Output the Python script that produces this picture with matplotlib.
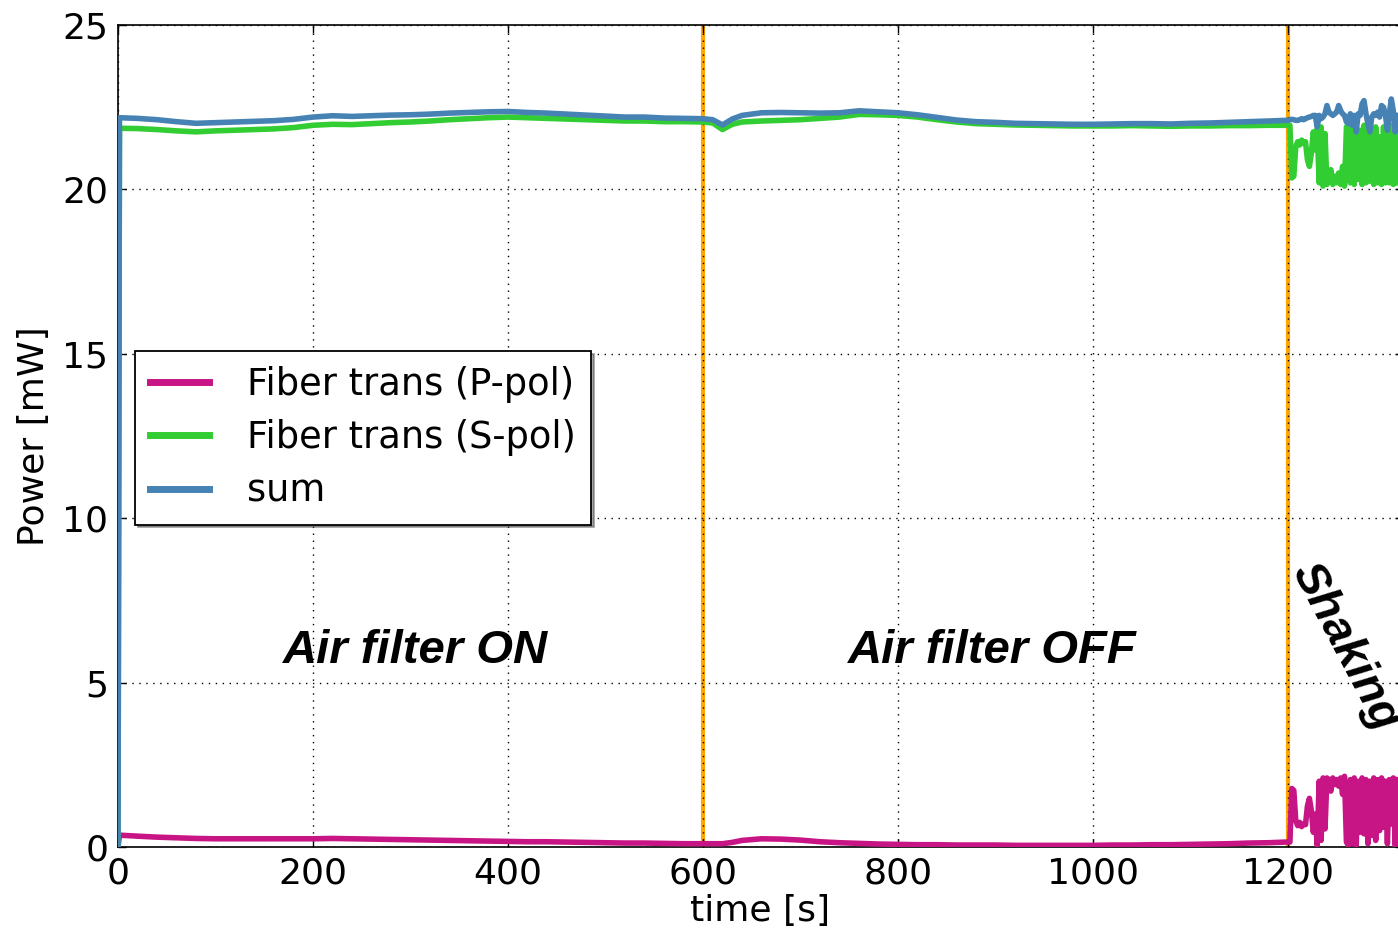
import numpy as np
import matplotlib
matplotlib.use("Agg")
import matplotlib.pyplot as plt

# ---- data: steady part (time in s) ----
t_steady = [0, 1.5, 20, 40, 60, 80, 100, 120, 140, 160, 180, 200, 220, 240, 260, 280,
            300, 320, 340, 360, 380, 400, 420, 440, 460, 480, 500, 520, 540, 560, 580,
            600, 610, 620, 630, 640, 660, 680, 700, 720, 740, 760, 780, 800, 820, 840,
            860, 880, 900, 920, 940, 960, 980, 1000, 1020, 1040, 1060, 1080, 1100,
            1120, 1140, 1160, 1180, 1198]
p_steady = [0.0, 0.36, 0.33, 0.30, 0.28, 0.26, 0.25, 0.25, 0.25, 0.25, 0.25, 0.25,
            0.26, 0.25, 0.24, 0.23, 0.22, 0.21, 0.20, 0.19, 0.18, 0.17, 0.16, 0.16,
            0.15, 0.14, 0.13, 0.12, 0.12, 0.11, 0.10, 0.10, 0.10, 0.10, 0.14, 0.20,
            0.25, 0.24, 0.21, 0.16, 0.13, 0.11, 0.09, 0.08, 0.07, 0.07, 0.06, 0.06,
            0.06, 0.05, 0.05, 0.05, 0.05, 0.05, 0.06, 0.06, 0.07, 0.07, 0.08, 0.09,
            0.10, 0.12, 0.13, 0.15]
s_steady = [0.0, 21.86, 21.85, 21.82, 21.78, 21.75, 21.78, 21.80, 21.82, 21.84,
            21.88, 21.95, 21.98, 21.97, 22.00, 22.03, 22.05, 22.08, 22.12, 22.15,
            22.18, 22.20, 22.18, 22.16, 22.14, 22.12, 22.10, 22.08, 22.08, 22.06,
            22.06, 22.05, 22.02, 21.82, 21.98, 22.05, 22.08, 22.10, 22.12, 22.16,
            22.20, 22.28, 22.27, 22.25, 22.20, 22.12, 22.05, 22.00, 21.98, 21.96,
            21.95, 21.94, 21.93, 21.93, 21.93, 21.94, 21.93, 21.92, 21.93, 21.93,
            21.94, 21.94, 21.95, 21.95]
sum_steady = [0.0, 22.18, 22.16, 22.12, 22.06, 22.01, 22.03, 22.05, 22.07, 22.09,
              22.13, 22.20, 22.24, 22.22, 22.24, 22.26, 22.27, 22.29, 22.32, 22.34,
              22.36, 22.37, 22.34, 22.32, 22.29, 22.26, 22.23, 22.20, 22.20, 22.17,
              22.16, 22.15, 22.12, 21.96, 22.14, 22.25, 22.33, 22.34, 22.33, 22.32,
              22.33, 22.39, 22.36, 22.33, 22.27, 22.19, 22.11, 22.06, 22.04, 22.01,
              22.00, 21.99, 21.98, 21.98, 21.99, 22.00, 22.00, 21.99, 22.01, 22.02,
              22.04, 22.06, 22.08, 22.10]

# ---- data: shaking part (every 2 s from 1200 s to 1312 s) ----
t_shake = [1200, 1202, 1204, 1206, 1208, 1210, 1212, 1214, 1216, 1218, 1220, 1222,
           1224, 1226, 1228, 1230, 1232, 1234, 1236, 1238, 1240, 1242, 1244, 1246,
           1248, 1250, 1252, 1254, 1256, 1258, 1260, 1262, 1264, 1266, 1268, 1270,
           1272, 1274, 1276, 1278, 1280, 1282, 1284, 1286, 1288, 1290, 1292, 1294,
           1296, 1298, 1300, 1302, 1304, 1306, 1308, 1310, 1312]
s_shake = [21.95, 21.95, 20.35, 20.40, 21.30, 21.45, 21.35, 21.50, 21.40, 21.45,
           20.90, 20.70, 21.10, 21.75, 21.20, 21.85, 20.20, 21.90, 20.10, 21.70,
           20.15, 20.30, 20.60, 20.15, 20.40, 20.20, 20.50, 20.15, 20.70, 20.10,
           21.90, 21.95, 20.20, 21.85, 20.15, 21.90, 20.30, 21.80, 20.15, 21.95,
           20.20, 21.90, 20.25, 21.85, 20.15, 21.90, 20.20, 21.60, 20.15, 21.90,
           20.20, 21.85, 20.20, 21.95, 20.15, 21.90, 20.20]
p_shake = [0.15, 0.15, 1.78, 1.72, 0.80, 0.65, 0.75, 0.62, 0.70, 0.68,
           1.25, 1.48, 1.10, 0.45, 1.00, 0.05, 2.00, 0.20, 2.10, 0.55,
           2.10, 2.05, 1.70, 2.10, 1.90, 2.05, 1.85, 2.10, 1.60, 2.15,
           0.15, 0.05, 2.05, 0.10, 2.10, 0.05, 2.00, 0.45, 2.10, 0.40,
           2.05, 0.10, 2.00, 0.35, 2.10, 0.20, 2.05, 0.50, 2.10, 0.60,
           2.00, 0.10, 2.05, 0.70, 2.10, 0.05, 2.05]
sum_shake = [22.10, 22.12, 22.13, 22.12, 22.10, 22.10, 22.12, 22.15, 22.12, 22.15,
             22.18, 22.20, 22.22, 22.25, 22.25, 21.90, 22.25, 22.15, 22.20, 22.30,
             22.55, 22.35, 22.30, 22.25, 22.30, 22.35, 22.55, 22.40, 22.30, 22.25,
             22.05, 22.00, 22.30, 21.95, 22.25, 21.75, 22.30, 22.25, 22.60, 22.70,
             22.30, 22.00, 21.75, 22.20, 22.30, 22.25, 22.35, 22.20, 22.55, 22.50,
             22.25, 21.80, 22.30, 22.75, 22.40, 21.75, 22.25]

phase_lines = [600, 1200]
labels = ["Fiber trans (P-pol)", "Fiber trans (S-pol)", "sum"]
colors = ["#C71585", "#32CD32", "#4682B4"]

t = t_steady + t_shake
p = p_steady + p_shake
s = s_steady + s_shake
tot = sum_steady + sum_shake

plt.rcParams['font.family'] = ['DejaVu Sans']
fig = plt.figure(figsize=(13.98, 9.35), dpi=100)
ax = fig.add_axes([118/1398, 88/935, 1285/1398, 822/935])

ax.plot(t, p, color=colors[0], lw=4, label=labels[0], zorder=3)
ax.plot(t, s, color=colors[1], lw=4, label=labels[1], zorder=3)
ax.plot(t, tot, color=colors[2], lw=4, label=labels[2], zorder=3)

for xv in phase_lines:
    ax.axvline(xv, color="orange", lw=3, zorder=2)

ax.set_xlim(0, 1318)
ax.set_ylim(0, 25)
ax.set_xticks([0, 200, 400, 600, 800, 1000, 1200])
ax.set_yticks([0, 5, 10, 15, 20, 25])
ax.grid(True, color="black", linestyle=(0, (1, 4)), lw=1, zorder=4)
ax.set_axisbelow(False)
ax.tick_params(direction="in", length=6, width=1, labelsize=26, top=True, right=True, pad=7)
ax.set_xlabel("time [s]", fontsize=26, labelpad=2)
ax.set_ylabel("Power [mW]", fontsize=26, labelpad=8)
for sp in ax.spines.values():
    sp.set_linewidth(1.2)

leg = ax.legend(loc="upper left", bbox_to_anchor=(135/1398, 1 - 351/935),
                bbox_transform=fig.transFigure, fontsize=26.5, shadow=True,
                fancybox=False, framealpha=1, edgecolor="black",
                handlelength=1.6, handletextpad=1.05, borderpad=0.4,
                labelspacing=0.45, borderaxespad=0)
leg.get_frame().set_linewidth(1.3)
for ln in leg.get_lines():
    ln.set_linewidth(5)

tfont = dict(family="Liberation Sans", weight="bold", style="italic", fontsize=34)
ax.text(305, 5.95, "Air filter ON", ha="center", va="center", **tfont)
ax.text(897, 5.95, "Air filter OFF", ha="center", va="center", **tfont)
ax.text(1258, 6.1, "Shaking", ha="center", va="center", rotation=-62, **tfont)

fig.savefig("out.png", dpi=100)
